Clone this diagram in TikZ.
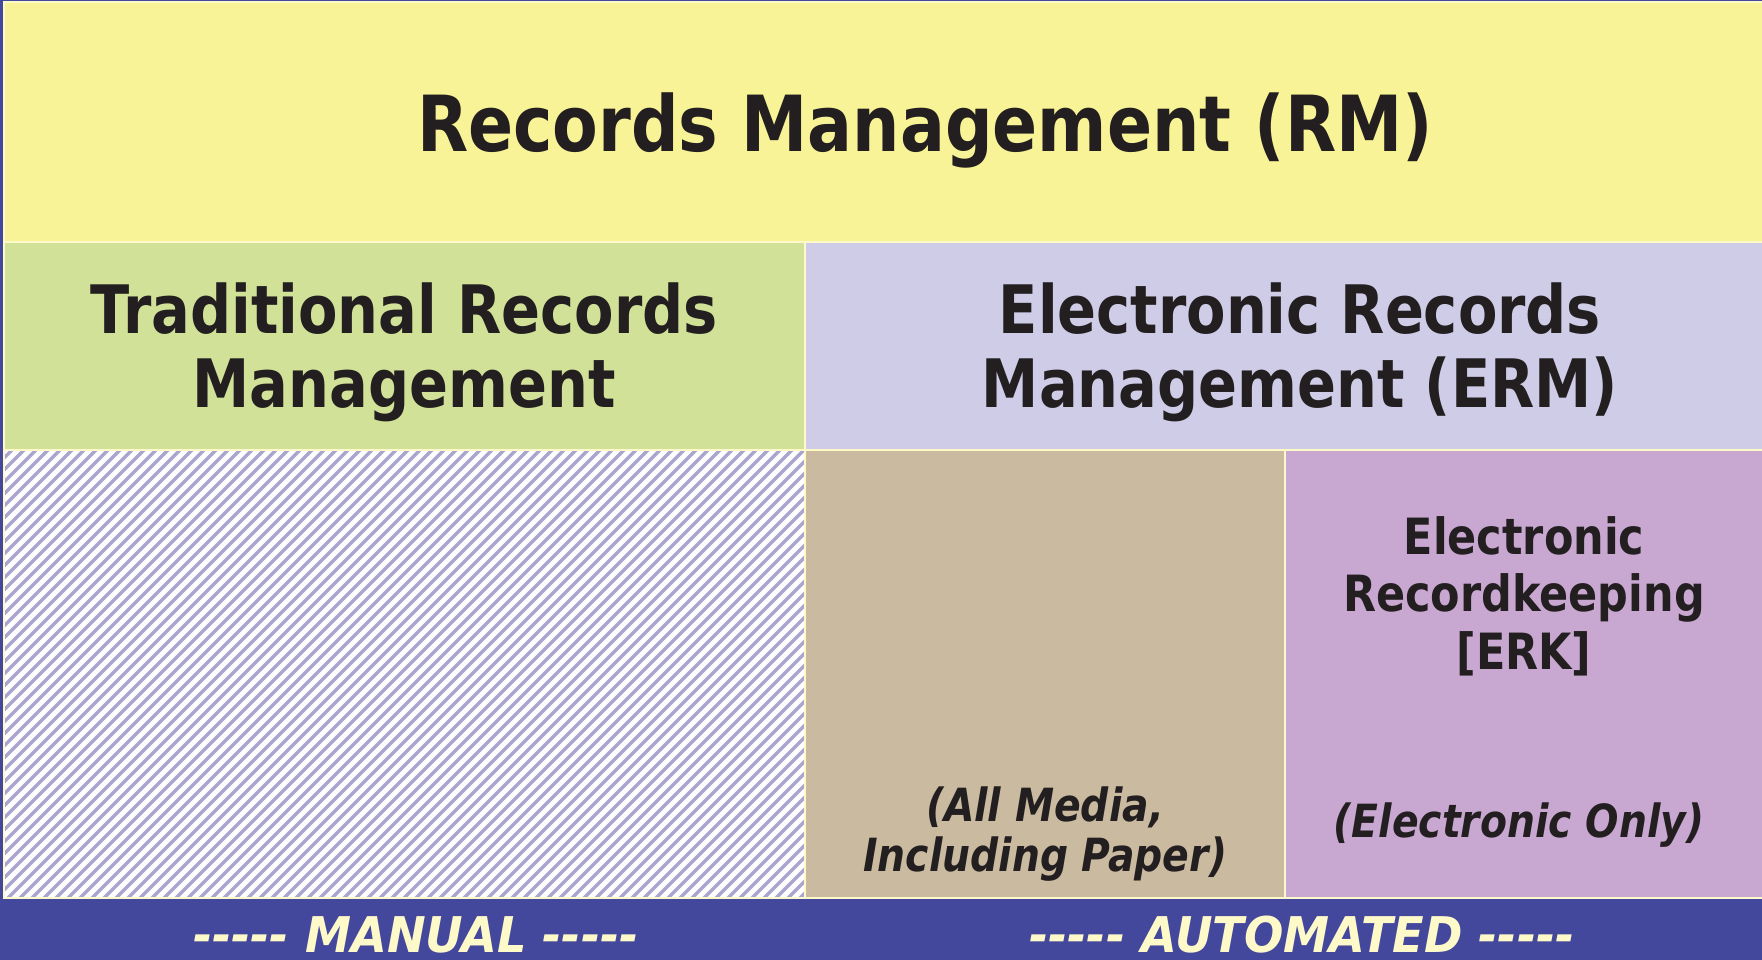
\documentclass[tikz,border=0pt]{standalone}
\usepackage{fontspec}
\setmainfont{DejaVu Sans}[FakeStretch=0.86]
\newfontfamily\barfont{DejaVu Sans}[FakeStretch=0.94]
\usepackage{xcolor}
\usepackage{tikz}
\usetikzlibrary{positioning}
\definecolor{barblue}{HTML}{44489C}
\definecolor{rmyellow}{HTML}{F8F396}
\definecolor{trmgreen}{HTML}{D1E298}
\definecolor{ermlilac}{HTML}{CFCCE8}
\definecolor{mediatan}{HTML}{C9BAA0}
\definecolor{erkpurple}{HTML}{C8A7D1}
\definecolor{sepcream}{HTML}{FDF9C8}
\definecolor{hatchlilac}{HTML}{A9A5CF}
\definecolor{barcream}{HTML}{FEF9C9}
\definecolor{inkdark}{HTML}{231F20}
\newcommand\dashrun{-{}-{}-{}-{}-}
\tikzset{%
  cellbox/.style={draw=sepcream,line width=0.8pt},
  hatchline/.style={draw=hatchlilac,line width=0.95pt}
}
\tikzset{%
  toptext/.style={font=\bfseries\fontsize{22}{24}\selectfont,text=inkdark,inner sep=0pt},
  midtext/.style={font=\bfseries\fontsize{19}{21}\selectfont,text=inkdark,align=center,inner sep=0pt},
  erktext/.style={font=\bfseries\fontsize{14.2}{16.4}\selectfont,text=inkdark,align=center,inner sep=0pt},
  notetext/.style={font=\bfseries\itshape\fontsize{13}{14.2}\selectfont,text=inkdark,align=center,inner sep=0pt},
  bartext/.style={font=\barfont\bfseries\itshape\fontsize{14}{16}\selectfont,text=barcream,inner sep=0pt}
}

\begin{document}
\begin{tikzpicture}[x=0.01cm,y=-0.01cm]
  \fill[barblue] (0,0) rectangle (1762,960);
  \useasboundingbox (0,0) rectangle (1762,960);

  \fill[rmyellow] (4,2) rectangle (1764,242);
  \fill[trmgreen] (4,242) rectangle (805,450);
  \fill[ermlilac] (805,242) rectangle (1764,450);
  \fill[white] (4,450) rectangle (805,898);
  \fill[mediatan] (805,450) rectangle (1285,898);
  \fill[erkpurple] (1285,450) rectangle (1764,898);

  \begin{scope}
    \clip (4,450) rectangle (805,898);
    \foreach \x in {-460,-448,...,810}
      \draw[hatchline] (\x,898) -- ++(448,-448);
  \end{scope}

  \draw[cellbox] (4,2) rectangle (1764,242);
  \draw[cellbox] (4,242) rectangle (805,450);
  \draw[cellbox] (805,242) rectangle (1764,450);
  \draw[cellbox] (4,450) rectangle (805,898);
  \draw[cellbox] (805,450) rectangle (1285,898);
  \draw[cellbox] (1285,450) rectangle (1764,898);

  \node[toptext,anchor=base] (rm) at (925,151) {Records Management (RM)};
  \node[midtext] (trm) at (404,352) {Traditional Records\\Management};
  \node[midtext] (erm) at (1300,352) {Electronic Records\\Management (ERM)};
  \node[erktext] (erk) at (1524,596) {Electronic\\Recordkeeping\\{}[ERK]};
  \node[notetext] (allmedia) at (1045,834) {(All Media,\\Including Paper)};
  \node[notetext,anchor=base] (erkonly) at (1519,837) {(Electronic Only)};

  \node[bartext,anchor=base] (manual) at (416,952) {\dashrun{} MANUAL \dashrun};
  \node[bartext,anchor=base] (automated) at (1302,952) {\dashrun{} AUTOMATED \dashrun};
\end{tikzpicture}
\end{document}
